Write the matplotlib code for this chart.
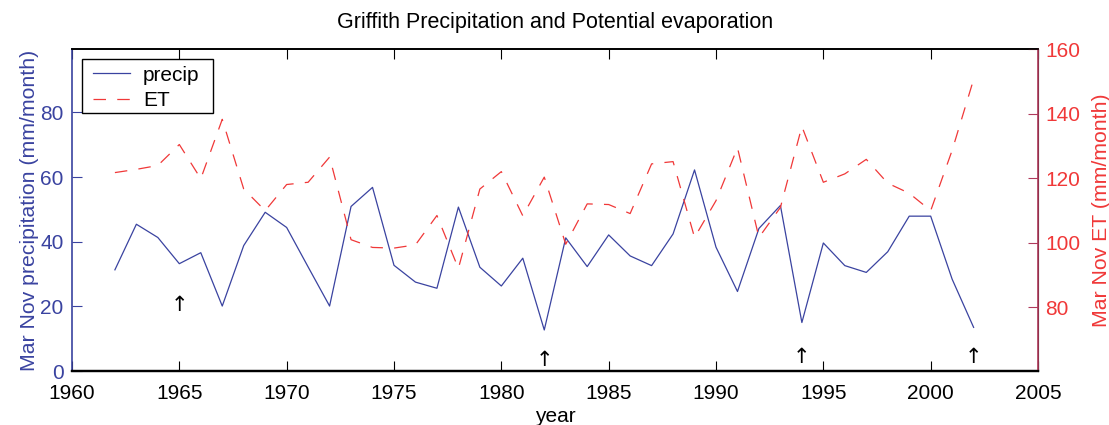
import matplotlib
matplotlib.use("Agg")
import matplotlib.pyplot as plt
from matplotlib.patches import Rectangle

plt.rcParams['font.family'] = ['Liberation Sans', 'DejaVu Sans']

# data
years = list(range(1962, 2003))
precip = [31.3, 45.4, 41.3, 33.2, 36.6, 20.1, 38.8, 49.1, 44.4, 32.2,
          20.1, 50.9, 56.8, 32.7, 27.5, 25.6, 50.7, 32.1, 26.3, 34.9,
          12.7, 41.2, 32.3, 42.1, 35.6, 32.6, 42.4, 62.2, 38.3, 24.6,
          44.1, 51.2, 15.0, 39.6, 32.6, 30.5, 36.9, 47.9, 47.9, 28.4,
          13.5]
et = [121.7, 122.7, 123.9, 130.4, 119.8, 138.2, 116.6, 109.9, 118.0, 118.7,
      126.5, 100.9, 98.5, 98.3, 99.3, 108.4, 92.0, 116.6, 122.0, 108.3,
      120.3, 99.5, 112.0, 111.8, 109.0, 124.4, 125.1, 101.6, 113.0, 129.4,
      101.6, 110.9, 136.0, 118.7, 121.3, 125.8, 118.4, 115.3, 109.9, 128.6,
      150.6]
arrow_years = [1965, 1982, 1994, 2002]
arrow_levels = [20.3, 3.4, 4.2, 4.2]

blue = '#3a43a0'
red = '#f03838'
spine_red = '#b03a5c'

fig = plt.figure(figsize=(11.09, 4.25), dpi=100)
ax1 = fig.add_axes([0.0649, 0.127, 0.8711, 0.7577])
ax2 = ax1.twinx()

l1, = ax1.plot(years, precip, color=blue, lw=0.9, label='precip')
l2, = ax2.plot(years, et, color=red, lw=0.9, ls=(0, (10, 9)), label='ET')

for yr, lv in zip(arrow_years, arrow_levels):
    ax1.text(yr, lv, '\u2191', ha='center', va='center', fontsize=15,
             family=['DejaVu Sans'])

ax1.set_xlim(1960, 2005)
ax1.set_xticks(range(1960, 2006, 5))
ax1.set_ylim(0, 99.6)
ax1.set_yticks(range(0, 81, 20))
ax2.set_ylim(60.2, 160)
ax2.set_yticks(range(80, 161, 20))

ax1.tick_params(axis='x', direction='in', length=7, top=True, labelsize=15,
                pad=9, width=0.8)
ax1.tick_params(axis='y', direction='in', length=7, colors=blue, labelsize=15,
                width=0.8, pad=6)
ax2.tick_params(axis='y', direction='in', length=7, colors=red, labelsize=15,
                width=0.8, pad=5)
ax2.tick_params(axis='y', color=spine_red)

for ax in (ax1, ax2):
    ax.spines['top'].set_linewidth(1.2)
    ax.spines['bottom'].set_linewidth(1.6)
ax1.spines['left'].set_color(blue)
ax1.spines['left'].set_linewidth(1.2)
ax2.spines['right'].set_color(spine_red)
ax2.spines['right'].set_linewidth(1.2)
ax2.spines['left'].set_visible(False)

ax1.set_ylabel('Mar Nov precipitation (mm/month)', color=blue, fontsize=15.3)
ax1.yaxis.set_label_coords(-0.0345, 0.5)
ax2.set_ylabel('Mar Nov ET (mm/month)', color=red, fontsize=15.3)
ax2.yaxis.set_label_coords(1.0555, 0.5)
ax1.set_xlabel('year', fontsize=15, labelpad=3)
ax1.set_title('Griffith Precipitation and Potential evaporation',
              fontsize=15.5, pad=15)

# legend box drawn separately, MATLAB style
ax2.add_patch(Rectangle((0.010, 0.800), 0.136, 0.168, transform=ax2.transAxes,
                        facecolor='white', edgecolor='black', lw=1.0,
                        zorder=4))
leg = ax2.legend(handles=[l1, l2], loc='upper left', fontsize=15,
                 frameon=False, bbox_to_anchor=(0.0217, 0.948),
                 borderaxespad=0, borderpad=0, handlelength=1.8,
                 handletextpad=0.6, labelspacing=0.3)
leg.set_zorder(5)

fig.savefig('out.png', dpi=100)
